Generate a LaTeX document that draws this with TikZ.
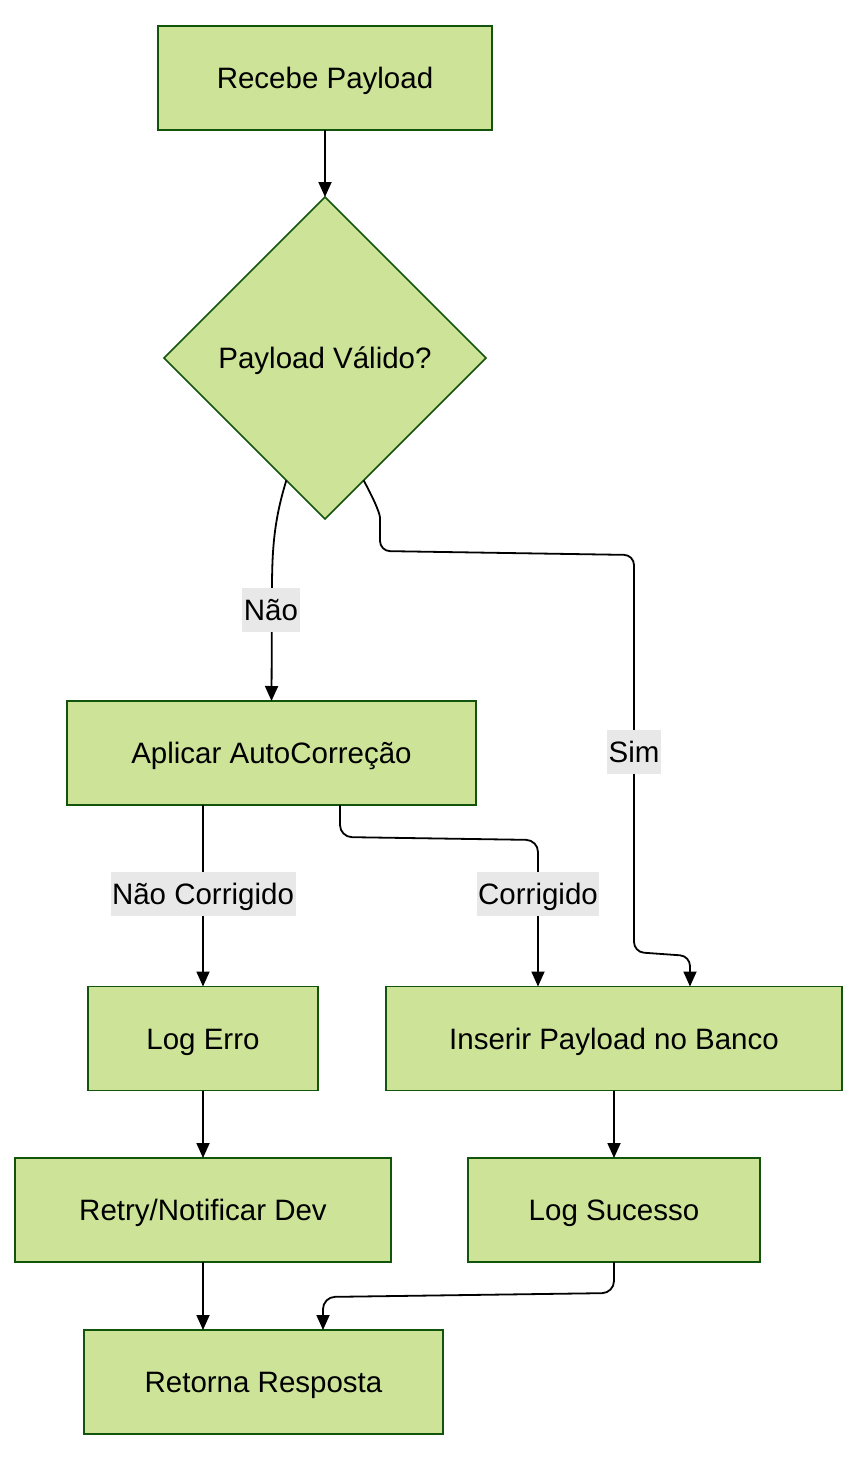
\documentclass[tikz,border=0pt]{standalone}
\usepackage{fontspec}
\setmainfont{Liberation Sans}
\usetikzlibrary{shapes.geometric,arrows.meta,calc}
\definecolor{boxfill}{HTML}{CDE498}
\definecolor{boxline}{HTML}{13540C}
\definecolor{lblbg}{HTML}{E8E8E8}
\tikzset{
  txt/.style={font=\fontsize{29.5}{35}\selectfont, text height=25pt, text depth=4pt},
  box/.style={txt, draw=boxline, fill=boxfill, line width=1.5pt, minimum height=104pt, inner xsep=0pt, inner ysep=0pt, outer sep=0pt},
  dec/.style={txt, diamond, draw=boxline, fill=boxfill, line width=1.5pt, minimum width=322pt, minimum height=322pt, aspect=1, inner sep=0pt, outer sep=0pt},
  edge/.style={draw=black, line width=1.8pt, -{Triangle[length=15pt,width=13pt]}},
  lbl/.style={txt, fill=lblbg, inner xsep=1.5pt, inner ysep=0pt, minimum height=44pt}
}
\begin{document}
\begin{tikzpicture}[x=1pt,y=-1pt]
\useasboundingbox (0,0) rectangle (858,1460);
\node[box, minimum width=334pt] (rec) at (325,78) {Recebe Payload};
\node[dec] (dia) at (325,358) {Payload Válido?};
\node[box, minimum width=409pt] (apl) at (271.5,753) {Aplicar AutoCorreção};
\node[box, minimum width=230pt] (err) at (203,1038.5) {Log Erro};
\node[box, minimum width=456pt] (ins) at (614,1038.5) {Inserir Payload no Banco};
\node[box, minimum width=376pt] (ret) at (203,1210) {Retry/Notificar Dev};
\node[box, minimum width=292pt] (suc) at (614,1210) {Log Sucesso};
\node[box, minimum width=359pt] (resp) at (263.5,1382) {Retorna Resposta};

\draw[edge] (rec.south) -- (dia.north);
\draw[edge] ($(dia.west)!0.76!(dia.south)$) .. controls (274,520) and (272,550) .. (272,590) -- (apl.north);
\draw[edge, rounded corners=10pt] ($(dia.east)!0.76!(dia.south)$) .. controls (377,505) and (380,515) .. (380,528) -- (380,551) -- (634,555) -- (634,952) -- (690,956) -- ([xshift=304pt]ins.north west);
\draw[edge] (err.north |- apl.south) -- (err.north);
\draw[edge, rounded corners=12pt] ([xshift=68.5pt]apl.south) -- (340,837) -- (538,840) -- ([xshift=152pt]ins.north west);
\draw[edge] (ins.south) -- (suc.north);
\draw[edge] (err.south) -- (ret.north);
\draw[edge] (ret.south) -- (ret.south |- resp.north);
\draw[edge, rounded corners=12pt] (suc.south) -- (614,1293) -- (323,1297) -- ([xshift=59.5pt]resp.north);

\node[lbl] (lnao) at (271,610) {Não};
\node[lbl] (lsim) at (634,752) {Sim};
\node[lbl] (lnc) at (203,894) {Não Corrigido};
\node[lbl] (lcor) at (538,894) {Corrigido};
\end{tikzpicture}
\end{document}
